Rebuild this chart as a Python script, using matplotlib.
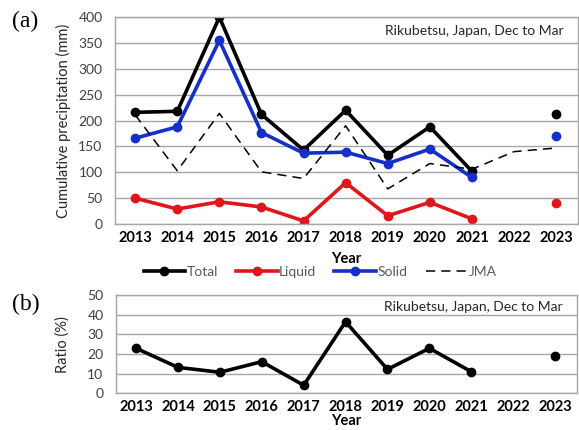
import numpy as np
import matplotlib.pyplot as plt

plt.rcParams['font.family'] = ['Lato', 'DejaVu Sans']

years = ['2013', '2014', '2015', '2016', '2017', '2018', '2019', '2020', '2021', '2022', '2023']
nan = np.nan

# cumulative precipitation (mm), Dec to Mar
total = [216, 218, 400, 212, 143, 220, 133, 188, 102, nan, 212]
liquid = [50, 29, 43, 33, 6, 80, 16, 42, 10, nan, 40]
solid = [166, 188, 355, 177, 137, 139, 117, 145, 90, nan, 171]
jma = [211, 103, 214, 101, 88, 190, 68, 117, 106, 140, 147]

# liquid share of total (%)
ratio = [22.9, 13.2, 10.7, 16.1, 4.1, 36.4, 12.2, 22.9, 11.0, nan, 19.0]

x = np.arange(len(years))
grid_c = '#a6a6a6'
tick_c = '#404040'


def style_axes(ax, ymax, step, xpad, note_y):
    ax.set_xlim(-0.48, 10.52)
    ax.set_ylim(0, ymax)
    ax.set_yticks(np.arange(0, ymax + 1, step))
    ax.set_xticks(x)
    ax.set_xticklabels(years, fontweight='bold', fontsize=10.5)
    ax.tick_params(axis='y', labelsize=10, colors=tick_c, length=0, pad=9)
    ax.tick_params(axis='x', length=0, pad=5, labelcolor='black')
    ax.yaxis.grid(True, color=grid_c, lw=1)
    ax.set_axisbelow(True)
    for s in ax.spines.values():
        s.set_color(grid_c)
        s.set_linewidth(1)
    ax.set_xlabel('Year', fontweight='bold', fontsize=10.5, labelpad=xpad)
    ax.text(0.97, note_y, 'Rikubetsu, Japan, Dec to Mar', transform=ax.transAxes,
            ha='right', va='center', fontsize=10, color='#262626')


fig = plt.figure(figsize=(5.79, 4.30), dpi=100)
ax1 = fig.add_axes([0.1986, 0.479, 0.7997, 0.481])
ax2 = fig.add_axes([0.2003, 0.0853, 0.796, 0.2286])

kw = dict(lw=2.6, marker='o', ms=6)
ax1.plot(x, total, color='black', label='Total', **kw)
ax1.plot(x, liquid, color='#e0161b', label='Liquid', **kw)
ax1.plot(x, solid, color='#1530c8', label='Solid', **kw)
ax1.plot(x, jma, color='black', lw=1.1, dashes=(6, 4), label='JMA')
style_axes(ax1, 400, 50, 5, 0.935)
ax1.set_ylabel('Cumulative precipitation (mm)', fontsize=10.5, color='#262626', labelpad=5)
ax1.legend(loc='center', bbox_to_anchor=(0.443, -0.232), ncol=4, frameon=False,
           fontsize=10, labelcolor='#595959', handlelength=3.0, handletextpad=0.1,
           columnspacing=1.3)

ax2.plot(x, ratio, color='black', **kw)
style_axes(ax2, 50, 10, 0, 0.875)
ax2.set_ylabel('Ratio (%)', fontsize=10.5, color='#262626', labelpad=13)

fig.text(0.02, 0.949, '(a)', family='Liberation Serif', fontsize=17, va='center')
fig.text(0.02, 0.291, '(b)', family='Liberation Serif', fontsize=17, va='center')

fig.savefig('out.png', dpi=100)
